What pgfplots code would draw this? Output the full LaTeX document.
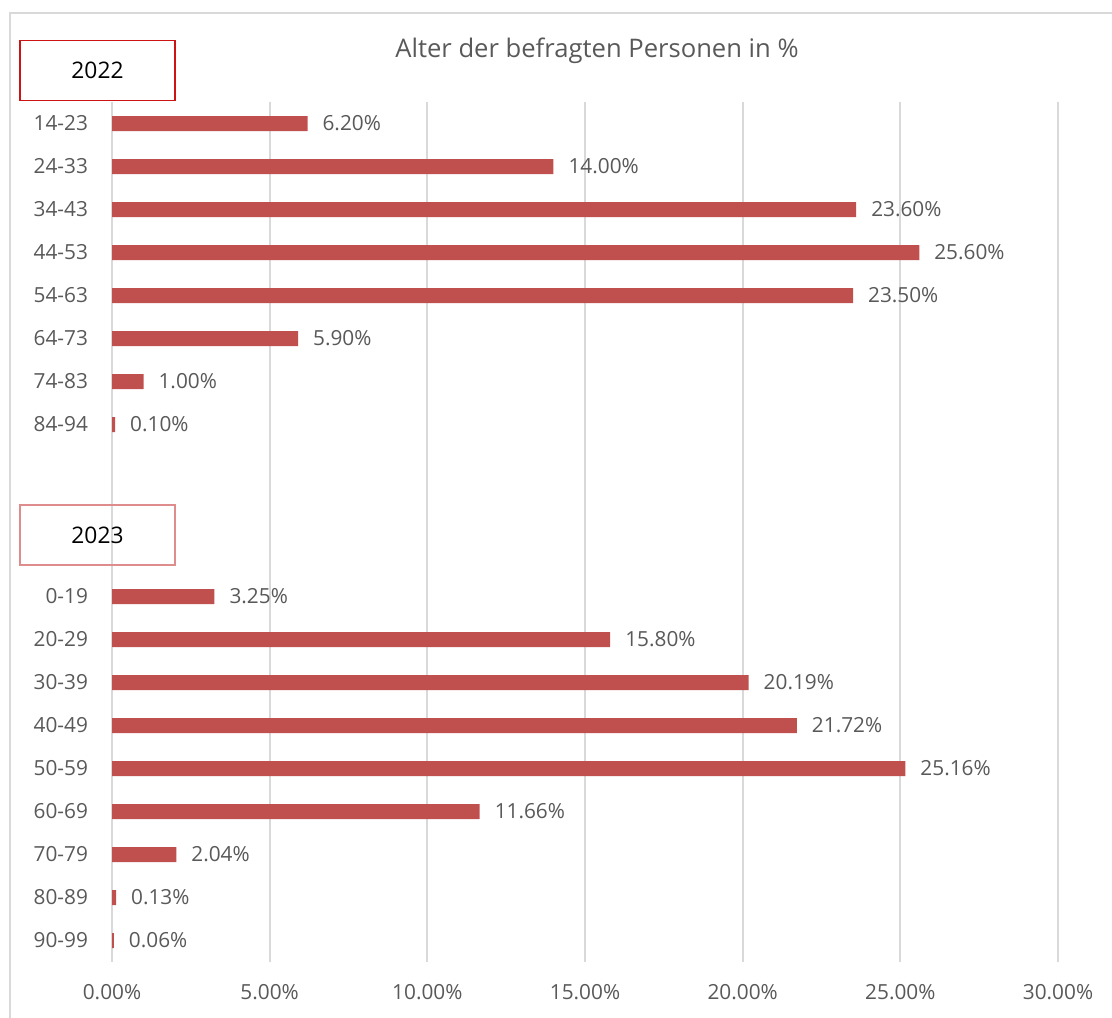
\documentclass[border=0pt]{standalone}
\usepackage{fontspec}
\setmainfont{Open Sans}
\usepackage{pgfplots}
\pgfplotsset{compat=1.18}
\definecolor{txtgray}{RGB}{89,89,89}
\definecolor{gridgray}{RGB}{217,217,217}
\definecolor{barred}{RGB}{192,80,77}
\definecolor{boxred}{RGB}{204,20,20}
\definecolor{boxpink}{RGB}{222,140,140}
\begin{document}
\begin{tikzpicture}
\begin{scope}[x=0.5pt,y=-0.5pt]
\useasboundingbox (0,0) rectangle (1112,1017);
% chart frame (cut off at right and bottom)
\draw[gridgray,line width=1pt] (10,1100) -- (10,13) -- (1200,13);
\end{scope}
\begin{axis}[
    at={(56pt,-481pt)}, anchor=south west,
    scale only axis,
    width=473pt, height=430pt,
    xbar, bar width=7.5pt,
    xmin=0, xmax=30,
    ymin=0.5, ymax=20.5, y dir=reverse,
    xtick={0,5,...,30},
    ytick={1,2,3,4,5,6,7,8,12,13,14,15,16,17,18,19,20},
    yticklabels={14-23,24-33,34-43,44-53,54-63,64-73,74-83,84-94,
                 0-19,20-29,30-39,40-49,50-59,60-69,70-79,80-89,90-99},
    /pgf/number format/assume math mode=true,
    xticklabel={\pgfmathprintnumber[fixed,fixed zerofill,precision=2]{\tick}\%},
    xmajorgrids, grid style={gridgray,line width=1pt},
    axis line style={draw=none},
    major tick length=0pt,
    tick label style={font=\fontsize{10.4}{12}\selectfont,text=txtgray},
    xticklabel style={yshift=-7.5pt},
    yticklabel style={xshift=-8.5pt},
    point meta=x,
    nodes near coords={\pgfmathprintnumber[fixed,fixed zerofill,precision=2]{\pgfplotspointmeta}\%},
    nodes near coords style={font=\fontsize{10.4}{12}\selectfont,text=txtgray,anchor=west,xshift=4pt},
    clip=false,
]
\addplot[draw=none,fill=barred] coordinates {
    (6.20,1) (14.00,2) (23.60,3) (25.60,4) (23.50,5) (5.90,6) (1.00,7) (0.10,8)
    (3.25,12) (15.80,13) (20.19,14) (21.72,15) (25.16,16) (11.66,17) (2.04,18) (0.13,19) (0.06,20)
};
\end{axis}
\begin{scope}[x=0.5pt,y=-0.5pt]
\node[text=txtgray,font=\fontsize{12.8}{15}\selectfont] at (597,51) {Alter der befragten Personen in \%};
\node[draw=boxred,line width=0.6pt,minimum width=77.5pt,minimum height=30pt,
      font=\fontsize{11.4}{13}\selectfont] at (97.5,70.5) {2022};
\node[draw=boxpink,line width=0.6pt,minimum width=77.5pt,minimum height=30pt,
      font=\fontsize{11.4}{13}\selectfont] at (97.5,535) {2023};
\end{scope}
\end{tikzpicture}
\end{document}
